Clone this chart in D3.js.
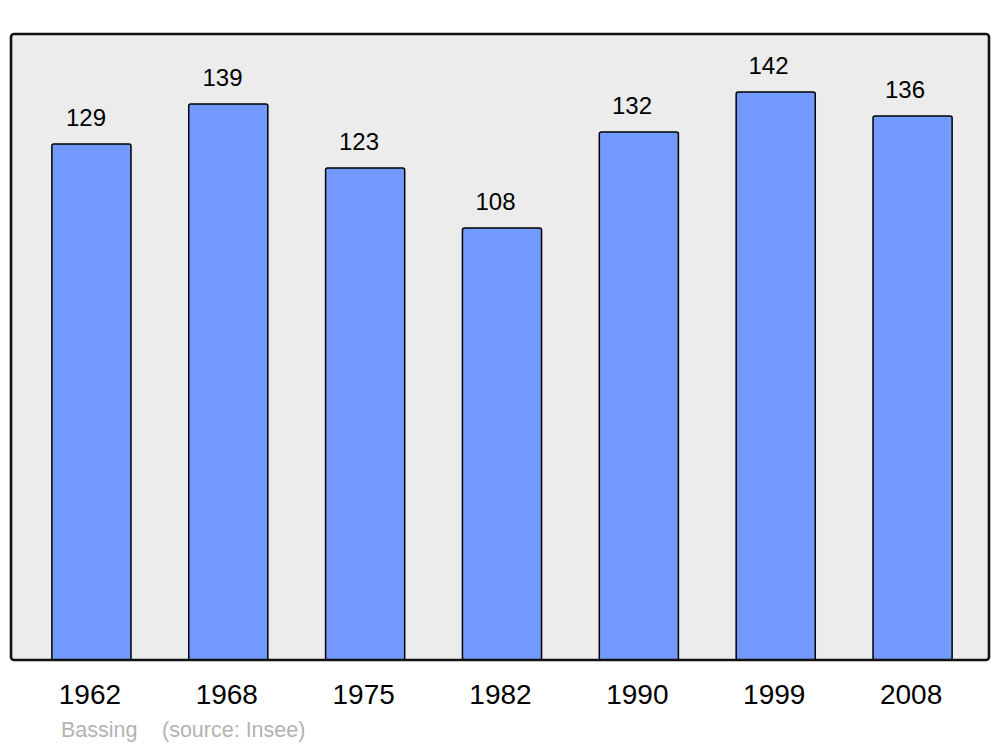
<!DOCTYPE html>
<html>
<head>
<meta charset="utf-8">
<script src="https://cdn.jsdelivr.net/npm/d3@7"></script>
<style>
  body { margin: 0; background: #fff; }
  text { font-family: "Liberation Sans", Arial, sans-serif; }
</style>
</head>
<body>
<svg id="chart" width="1000" height="747"></svg>
<script>
// data
const years = ['1962', '1968', '1975', '1982', '1990', '1999', '2008']
const population = [129, 139, 123, 108, 132, 142, 136]
const place = 'Bassing'
const source = '(source: Insee)'

const svg = d3.select('#chart')

const frame = { left: 11, right: 989, top: 34, bottom: 660 }

const x = d3.scaleBand()
  .domain(years)
  .range([23, 981])
  .paddingInner(0.422)
  .paddingOuter(0.211)

// value labels sit a little left of the bar centres in the original
const labelX = x.copy().range([17.75, 973.25])

const y = d3.scaleLinear()
  .domain([0, 156.5])
  .range([frame.bottom, frame.top])

// background box
svg.append('rect')
  .attr('x', frame.left)
  .attr('y', frame.top)
  .attr('width', frame.right - frame.left)
  .attr('height', frame.bottom - frame.top)
  .attr('rx', 3)
  .attr('fill', '#ececec')

const rows = years.map((yr, i) => ({ year: yr, value: population[i] }))

svg.append('g')
  .selectAll('rect')
  .data(rows)
  .enter()
  .append('rect')
  .attr('x', d => x(d.year))
  .attr('y', d => y(d.value))
  .attr('width', x.bandwidth())
  .attr('height', d => y(0) - y(d.value))
  .attr('rx', 2)
  .attr('fill', '#7399ff')
  .attr('stroke', '#000')
  .attr('stroke-width', 1.5)

// value labels
svg.append('g')
  .selectAll('text')
  .data(rows)
  .enter()
  .append('text')
  .attr('x', d => labelX(d.year) + labelX.bandwidth() / 2)
  .attr('y', d => y(d.value) - 18)
  .attr('text-anchor', 'middle')
  .attr('font-size', 24)
  .attr('fill', '#000')
  .text(d => d.value)

// frame outline on top
svg.append('rect')
  .attr('x', frame.left)
  .attr('y', frame.top)
  .attr('width', frame.right - frame.left)
  .attr('height', frame.bottom - frame.top)
  .attr('rx', 3)
  .attr('fill', 'none')
  .attr('stroke', '#111')
  .attr('stroke-width', 2.6)

// year labels
const xAxis = d3.axisBottom(x).tickSize(0).tickPadding(0)
const axisG = svg.append('g')
  .attr('transform', `translate(-1.5,${frame.bottom})`)
  .call(xAxis)
axisG.select('.domain').remove()
axisG.selectAll('text')
  .attr('dy', null)
  .attr('y', 44)
  .attr('font-size', 28)
  .attr('font-family', '"Liberation Sans", Arial, sans-serif')
  .attr('fill', '#000')

// footer
svg.append('text')
  .attr('x', 61)
  .attr('y', 737)
  .attr('font-size', 21.5)
  .attr('fill', '#b3b3b3')
  .text(place)

svg.append('text')
  .attr('x', 162)
  .attr('y', 737)
  .attr('font-size', 21.5)
  .attr('fill', '#b3b3b3')
  .text(source)
</script>
</body>
</html>
